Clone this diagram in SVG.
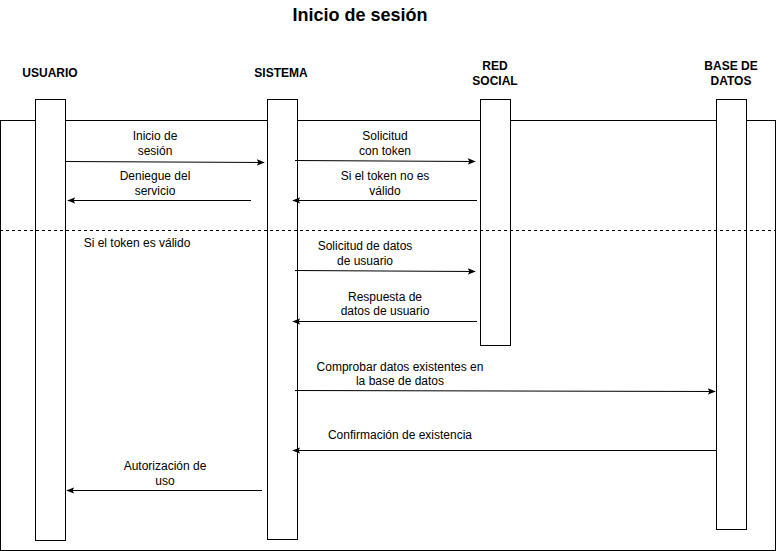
<svg xmlns="http://www.w3.org/2000/svg" width="777" height="551" viewBox="0 0 777 551">
<style>
.t{font-family:"Liberation Sans",Arial,Helvetica,sans-serif;font-size:12px;fill:#000;text-anchor:middle}
.h{font-weight:bold}
.ttl{font-family:"Liberation Sans",Arial,Helvetica,sans-serif;font-size:18px;font-weight:bold;text-anchor:middle}
.life{fill:#fff;stroke:#000;stroke-width:1}
.msg{stroke:#000;stroke-width:1;fill:none;marker-end:url(#arr)}
</style>
<defs>
<marker id="arr" viewBox="0 0 10 10" refX="9" refY="5" markerWidth="8" markerHeight="8" markerUnits="userSpaceOnUse" orient="auto">
<path d="M0,1 L10,5 L0,9 L2,5 Z" fill="#000"/>
</marker>
</defs>
<rect width="777" height="551" fill="#fff"/>
<text class="ttl" x="360" y="21">Inicio de sesión</text>
<g id="frame">
<rect x="0.5" y="120.5" width="775" height="430" fill="none" stroke="#000"/>
</g>
<g id="usuario">
<text class="t h" x="50" y="77">USUARIO</text>
<rect class="life" x="35.5" y="99.5" width="30" height="441"/>
</g>
<g id="sistema">
<text class="t h" x="281" y="77">SISTEMA</text>
<rect class="life" x="267.5" y="99.5" width="30" height="440"/>
</g>
<g id="redsocial">
<text class="t h" x="495" y="70">RED</text>
<text class="t h" x="495" y="85">SOCIAL</text>
<rect class="life" x="480.5" y="99.5" width="30" height="246"/>
</g>
<g id="basedatos">
<text class="t h" x="731" y="70">BASE DE</text>
<text class="t h" x="731" y="85">DATOS</text>
<rect class="life" x="716.5" y="99.5" width="30" height="430"/>
</g>
<g id="fragment">
<line x1="0" y1="230.5" x2="776" y2="230.5" stroke="#000" stroke-dasharray="3,3"/>
<text class="t" x="137" y="247">Si el token es válido</text>
</g>
<g id="connectors">
<line class="msg" x1="65" y1="161.5" x2="264" y2="162.5"/>
<text class="t" x="155" y="140">Inicio de</text>
<text class="t" x="155" y="155">sesión</text>
<line class="msg" x1="251" y1="200.5" x2="68" y2="200.5"/>
<text class="t" x="155" y="180">Deniegue del</text>
<text class="t" x="155" y="195">servicio</text>
<line class="msg" x1="295" y1="160.5" x2="475" y2="161.5"/>
<text class="t" x="385" y="140">Solicitud</text>
<text class="t" x="385" y="155">con token</text>
<line class="msg" x1="477" y1="200.5" x2="293" y2="200.5"/>
<text class="t" x="385" y="180">Si el token no es</text>
<text class="t" x="385" y="195">válido</text>
<line class="msg" x1="295" y1="270.5" x2="475" y2="271.5"/>
<text class="t" x="365" y="250">Solicitud de datos</text>
<text class="t" x="365" y="265">de usuario</text>
<line class="msg" x1="477" y1="321.5" x2="293" y2="321.5"/>
<text class="t" x="385" y="301">Respuesta de</text>
<text class="t" x="385" y="315">datos de usuario</text>
<line class="msg" x1="295" y1="390.5" x2="715" y2="391.5"/>
<text class="t" x="400" y="371">Comprobar datos existentes en</text>
<text class="t" x="400" y="385">la base de datos</text>
<line class="msg" x1="716" y1="450.5" x2="293" y2="450.5"/>
<text class="t" x="400" y="439">Confirmación de existencia</text>
<line class="msg" x1="262" y1="490.5" x2="67" y2="490.5"/>
<text class="t" x="165" y="470">Autorización de</text>
<text class="t" x="165" y="485">uso</text>
</g>
</svg>
